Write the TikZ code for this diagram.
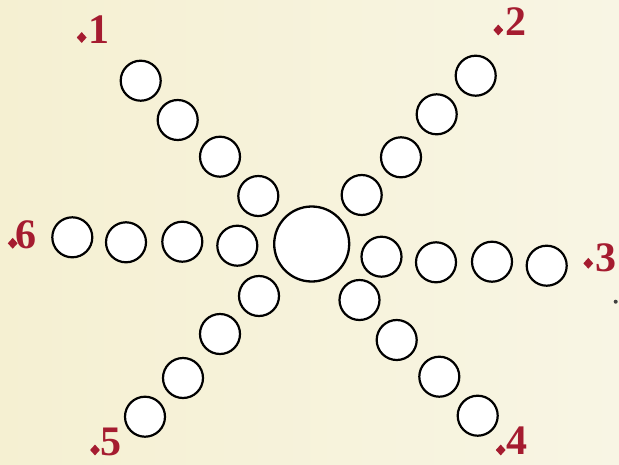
\documentclass[tikz,border=0pt]{standalone}
\usepackage{fontspec}
\setmainfont{Liberation Serif}
\usetikzlibrary{shapes.geometric}
\definecolor{labred}{HTML}{A51C30}
\definecolor{bgleft}{HTML}{F5F0D2}
\definecolor{bgright}{HTML}{F8F5E4}
\tikzset{
  ball/.style={circle, draw=black, fill=white, line width=2.2pt, minimum size=40pt, inner sep=0pt},
  hub/.style={circle, draw=black, fill=white, line width=2.3pt, minimum size=75pt, inner sep=0pt},
  dia/.style={diamond, fill=labred, inner sep=0pt, minimum width=10pt, minimum height=11pt},
  num/.style={anchor=base west, inner sep=0pt, text depth=0pt, text=labred, font=\fontsize{42}{46}\selectfont\bfseries}
}
\begin{document}
\begin{tikzpicture}[x=1pt,y=-1pt]
\shade[left color=bgleft, right color=bgright] (0,0) rectangle (619,464);
\useasboundingbox (0,0) rectangle (619,464);
% hub
\node[hub] (c) at (311.7,244) {};
% arm 1
\node[ball] (a11) at (258.3,196) {};
\node[ball] (a12) at (220,156.7) {};
\node[ball] (a13) at (177.7,120) {};
\node[ball] (a14) at (140.7,80.7) {};
% arm 2
\node[ball] (a21) at (361.7,195) {};
\node[ball] (a22) at (401,157.3) {};
\node[ball] (a23) at (436.7,114.3) {};
\node[ball] (a24) at (475.7,75.7) {};
% arm 3
\node[ball] (a31) at (381.5,256.7) {};
\node[ball] (a32) at (436,262.3) {};
\node[ball] (a33) at (492,261.7) {};
\node[ball] (a34) at (546.7,265.7) {};
% arm 4
\node[ball] (a41) at (359.5,300) {};
\node[ball] (a42) at (396.7,340) {};
\node[ball] (a43) at (439.3,376.7) {};
\node[ball] (a44) at (477.7,415.7) {};
% arm 5
\node[ball] (a51) at (259,296) {};
\node[ball] (a52) at (220,334) {};
\node[ball] (a53) at (183,378) {};
\node[ball] (a54) at (145,416.7) {};
% arm 6
\node[ball] (a61) at (237.3,245.7) {};
\node[ball] (a62) at (182.3,241.7) {};
\node[ball] (a63) at (126,242.3) {};
\node[ball] (a64) at (72.3,237.3) {};
% labels
\node[dia] (d1) at (81.7,37.5) {};
\node[num] (n1) at (88,43.3) {1};
\node[dia] (d2) at (498.3,30) {};
\node[num] (n2) at (505,35) {2};
\node[dia] (d3) at (588.3,263.3) {};
\node[num] (n3) at (595,271.7) {3};
\node[dia] (d4) at (500.7,450) {};
\node[num] (n4) at (506.5,454.5) {4};
\node[dia] (d5) at (95,450) {};
\node[num] (n5) at (100.5,455) {5};
\node[dia] (d6) at (12.7,243.3) {};
\node[num] (n6) at (15,248.3) {6};
% stray dot
\fill[black!75] (615.7,301.7) circle (2pt);
\end{tikzpicture}
\end{document}
